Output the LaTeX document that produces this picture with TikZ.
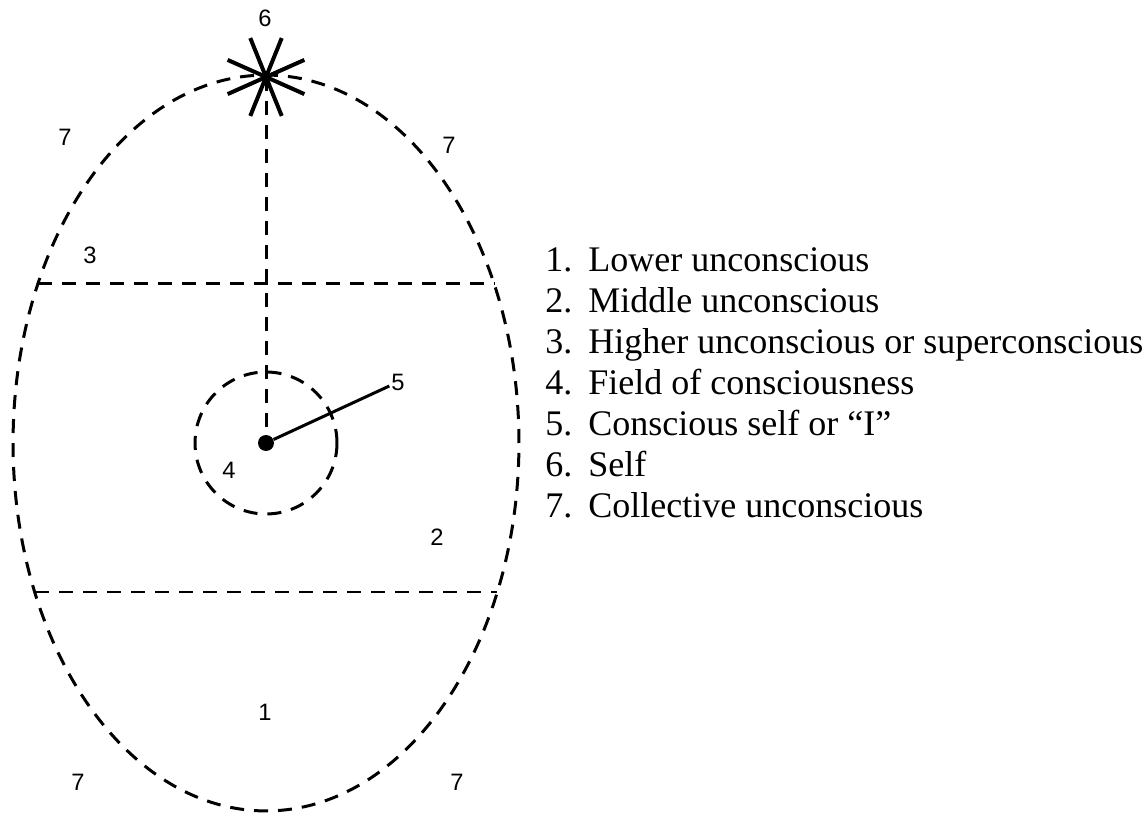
\documentclass[tikz,border=0pt]{standalone}
\usepackage{fontspec}
\setmainfont{Liberation Serif}
\setsansfont{Liberation Sans}
\usetikzlibrary{positioning}
\tikzset{
  dashline/.style={line width=0.06cm,dash pattern=on 0.28cm off 0.2cm},
  ray/.style={line width=0.08cm},
  num/.style={font=\sffamily\fontsize{13.5}{16}\selectfont,inner sep=1pt},
  legend/.style={font=\fontsize{20.5}{24}\selectfont,anchor=base west,inner sep=0pt}
}

\begin{document}
\begin{tikzpicture}[x=0.02cm,y=-0.02cm]
\useasboundingbox (0,0) rectangle (1144,814);
% the egg and its three layers
\coordinate (egg) at (266,443);
\draw[dashline] (egg) ellipse (5.06cm and 7.36cm);
\draw[dashline] (38,284) -- (494,284);
\draw[dashline] (35,592) -- (497,592);
% field of consciousness, the I and the Self
\draw[dashline] (egg) circle (1.42cm);
\coordinate (self) at (266,77);
\node[circle,fill,inner sep=0pt,minimum size=0.32cm] (ego) at (266,443) {};
\draw[dashline] (self) -- (ego);
\foreach \a in {24,68,112,156} {\draw[ray] (self) ++(\a:0.84cm) -- ++(\a+180:1.68cm);}
% numbers
\node[num] (l6) at (265,18) {6};
\node[num] (l7a) at (65,137) {7};
\node[num] (l7b) at (449,145) {7};
\node[num] (l3) at (90,255) {3};
\node[num] (l5) at (398,382) {5};
\node[num] (l4) at (229,470) {4};
\node[num] (l2) at (437,537) {2};
\node[num] (l1) at (265,712) {1};
\node[num] (l7c) at (78,782) {7};
\node[num] (l7d) at (457,782) {7};
\draw[line width=0.06cm] (ego) -- (l5);
% legend
\foreach \n/\txt in {1/Lower unconscious,2/Middle unconscious,3/Higher unconscious or superconscious,4/Field of consciousness,5/Conscious self or “I”,6/Self,7/Collective unconscious}
  {\node[legend] (leg\n) at (545,{231+41*\n}) {\makebox[0.86cm][l]{\n.}\txt};}
\end{tikzpicture}
\end{document}
